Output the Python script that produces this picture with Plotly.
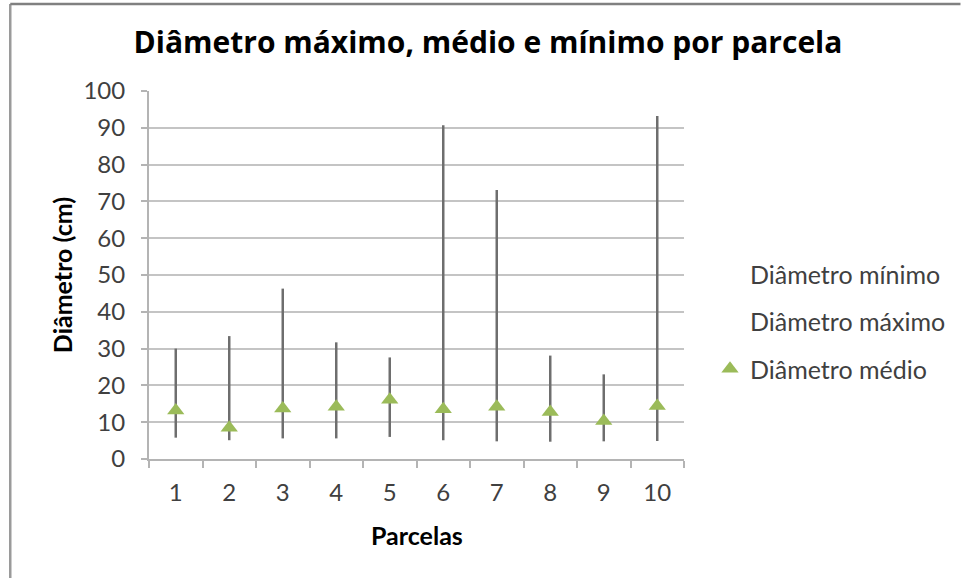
import plotly.graph_objects as go

# Parcelas e diâmetros (cm)
parcelas = ["1", "2", "3", "4", "5", "6", "7", "8", "9", "10"]
diametro_minimo = [5.8, 5.1, 5.6, 5.6, 6.0, 5.1, 4.8, 4.7, 4.8, 4.9]
diametro_maximo = [30.0, 33.4, 46.3, 31.7, 27.6, 90.7, 73.1, 28.1, 23.0, 93.2]
diametro_medio = [13.2, 8.5, 13.7, 14.2, 16.1, 13.5, 14.2, 12.8, 10.3, 14.4]

FONT = "Lato"
W, H = 962, 578
ML, MR, MT, MB = 149, 277, 91, 119
PW, PH = W - ML - MR, H - MT - MB


def px_x(p):
    return (p - ML) / PW


def px_y(p):
    return (H - MB - p) / PH


# linhas máximo-mínimo por parcela
hl_x, hl_y = [], []
for p, lo, hi in zip(parcelas, diametro_minimo, diametro_maximo):
    hl_x += [p, p, None]
    hl_y += [lo, hi, None]

hidden = dict(color="rgba(0,0,0,0)", size=0.1, line=dict(width=0))

fig = go.Figure()
fig.add_trace(go.Scatter(
    x=hl_x, y=hl_y, mode="lines", line=dict(color="#6e6e6e", width=2.5),
    showlegend=False, hoverinfo="skip"))
fig.add_trace(go.Scatter(
    x=parcelas, y=diametro_minimo, mode="markers", name="Diâmetro mínimo",
    marker=hidden, legendgroup="min"))
fig.add_trace(go.Scatter(
    x=parcelas, y=diametro_maximo, mode="markers", name="Diâmetro máximo",
    marker=hidden, legendgroup="max"))
fig.add_trace(go.Scatter(
    x=parcelas, y=diametro_medio, mode="markers", name="Diâmetro médio",
    marker=dict(symbol="triangle-up", size=15, color="#9BBB59"),
    legendgroup="med"))

fig.update_layout(
    width=W, height=H,
    margin=dict(l=ML, r=MR, t=MT, b=MB),
    paper_bgcolor="white", plot_bgcolor="white",
    font=dict(family=FONT, size=24, color="#404040"),
    title=dict(text="<b>Diâmetro máximo, médio e mínimo por parcela</b>",
               x=488 / W, xanchor="center", y=1 - 42 / H, yanchor="middle",
               font=dict(family="Open Sans", size=30, color="#000000")),
    xaxis=dict(type="category", range=[-0.5, 9.5], tickson="boundaries",
               ticks="outside", ticklen=7, tickcolor="#b4b4b4", tickwidth=2,
               showline=True, linecolor="#b4b4b4", linewidth=2,
               showgrid=False, ticklabelstandoff=11,
               tickfont=dict(family=FONT, size=24, color="#404040")),
    yaxis=dict(range=[0, 100], dtick=10, ticks="outside", ticklen=6,
               tickcolor="#b4b4b4", tickwidth=2,
               showline=True, linecolor="#b4b4b4", linewidth=2,
               showgrid=True, gridcolor="#c4c4c4", gridwidth=2,
               zeroline=False, ticklabelstandoff=11,
               tickfont=dict(family=FONT, size=24, color="#404040")),
    legend=dict(x=px_x(710), xanchor="left", y=px_y(251), yanchor="top",
                font=dict(family=FONT, size=25, color="#404040"),
                tracegroupgap=12, bgcolor="rgba(0,0,0,0)"),
    annotations=[
        dict(text="<b>Diâmetro (cm)</b>", xref="paper", yref="paper",
             x=px_x(62), y=0.5, xanchor="center", yanchor="middle",
             textangle=-90, showarrow=False,
             font=dict(family=FONT, size=25, color="#000000")),
        dict(text="<b>Parcelas</b>", xref="paper", yref="paper",
             x=px_x(418), y=px_y(535), xanchor="center", yanchor="middle",
             showarrow=False,
             font=dict(family=FONT, size=25, color="#000000")),
    ],
    shapes=[
        dict(type="line", xref="paper", yref="paper",
             x0=px_x(10), x1=px_x(10), y0=px_y(H), y1=px_y(4),
             line=dict(color="#9a9a9a", width=2.5)),
        dict(type="line", xref="paper", yref="paper",
             x0=px_x(10), x1=px_x(W), y0=px_y(4), y1=px_y(4),
             line=dict(color="#808080", width=2.5)),
    ],
)

fig.write_html("out.html")
